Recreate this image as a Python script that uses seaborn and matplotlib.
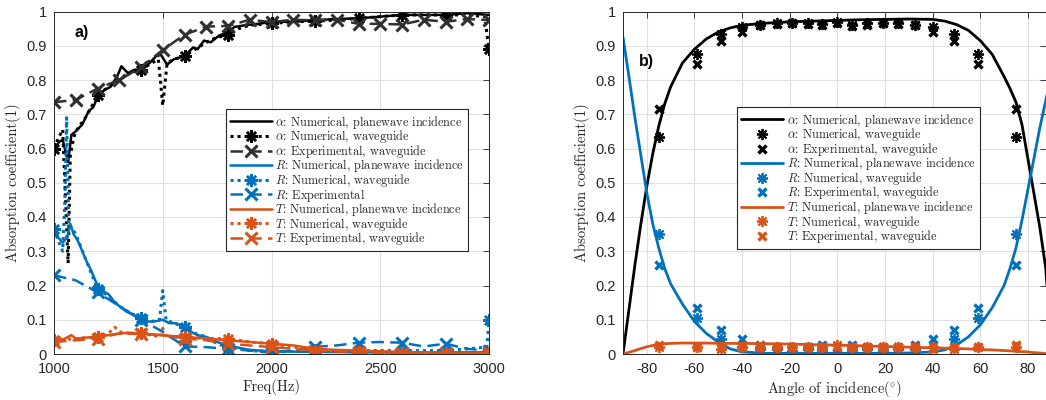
import numpy as np
import pandas as pd
import matplotlib
matplotlib.use('Agg')
import matplotlib.pyplot as plt
import seaborn as sns

# Panel a) data: absorption vs frequency
freq_a_pw = [1000, 1025, 1040, 1065, 1080, 1100, 1130, 1160, 1180, 1200, 1230, 1260, 1290, 1310,
             1340, 1370, 1400, 1440, 1470, 1490, 1520, 1550, 1600, 1640, 1660, 1690, 1720, 1760,
             1800, 1830, 1880, 1950, 2000, 2100, 2200, 2300, 2400, 2500, 2600, 2700, 2800, 2900, 3000]
alpha_pw = [0.60, 0.62, 0.625, 0.56, 0.64, 0.65, 0.67, 0.71, 0.72, 0.75, 0.77, 0.78, 0.81, 0.84,
            0.82, 0.83, 0.83, 0.85, 0.87, 0.875, 0.845, 0.86, 0.87, 0.895, 0.89, 0.915, 0.91, 0.93,
            0.94, 0.955, 0.96, 0.965, 0.97, 0.97, 0.975, 0.978, 0.98, 0.985, 0.99, 0.99, 0.99, 0.995, 0.99]

freq_a_wg = [1000, 1020, 1040, 1050, 1065, 1075, 1090, 1100, 1150, 1200, 1250, 1300, 1350, 1400,
             1450, 1480, 1500, 1520, 1550, 1600, 1650, 1700, 1750, 1800, 1850, 1900, 2000, 2100,
             2200, 2300, 2400, 2500, 2600, 2700, 2800, 2900, 2980, 3000]
alpha_wg = [0.60, 0.63, 0.655, 0.50, 0.265, 0.58, 0.63, 0.65, 0.695, 0.755, 0.78, 0.80, 0.82, 0.83,
            0.85, 0.86, 0.725, 0.85, 0.86, 0.87, 0.89, 0.91, 0.925, 0.93, 0.95, 0.96, 0.965, 0.97,
            0.972, 0.975, 0.98, 0.985, 0.99, 0.99, 0.99, 0.99, 0.985, 0.89]

freq_exp = [1000, 1100, 1200, 1300, 1400, 1500, 1600, 1700, 1800, 1900, 2000,
            2100, 2200, 2300, 2400, 2500, 2600, 2700, 2800, 2900, 3000]
alpha_exp = [0.735, 0.742, 0.775, 0.80, 0.837, 0.888, 0.932, 0.956, 0.958, 0.976, 0.969,
             0.976, 0.974, 0.976, 0.964, 0.964, 0.962, 0.976, 0.97, 0.978, 0.975]

freq_r_pw = [1000, 1020, 1040, 1060, 1075, 1090, 1110, 1130, 1150, 1170, 1200, 1220, 1250, 1280,
             1300, 1330, 1360, 1400, 1430, 1460, 1500, 1530, 1560, 1600, 1630, 1660, 1700, 1750,
             1800, 1850, 1900, 2000, 2200, 2400, 2600, 2800, 3000]
r_pw = [0.37, 0.34, 0.325, 0.34, 0.38, 0.35, 0.33, 0.30, 0.27, 0.245, 0.20, 0.185, 0.175, 0.15,
        0.14, 0.125, 0.115, 0.10, 0.095, 0.095, 0.10, 0.09, 0.09, 0.08, 0.065, 0.055, 0.05, 0.035,
        0.025, 0.018, 0.012, 0.008, 0.006, 0.005, 0.005, 0.005, 0.005]

freq_r_wg = [1000, 1020, 1040, 1050, 1058, 1068, 1080, 1100, 1150, 1200, 1250, 1300, 1350, 1400,
             1450, 1485, 1500, 1515, 1550, 1600, 1650, 1700, 1750, 1800, 1900, 2000, 2100, 2200,
             2300, 2400, 2500, 2600, 2700, 2800, 2900, 2990, 3000]
r_wg = [0.365, 0.33, 0.30, 0.45, 0.69, 0.37, 0.37, 0.35, 0.27, 0.19, 0.17, 0.14, 0.12, 0.105,
        0.095, 0.10, 0.185, 0.10, 0.09, 0.08, 0.06, 0.05, 0.03, 0.02, 0.01, 0.005, 0.008, 0.012,
        0.01, 0.01, 0.01, 0.01, 0.01, 0.01, 0.015, 0.02, 0.10]

r_exp = [0.23, 0.215, 0.18, 0.14, 0.10, 0.065, 0.022, 0.02, 0.015, 0.01, 0.004,
         0.01, 0.021, 0.025, 0.033, 0.035, 0.033, 0.022, 0.03, 0.015, 0.01]

freq_t_pw = [1000, 1050, 1080, 1100, 1150, 1200, 1250, 1300, 1350, 1400, 1450, 1500, 1550,
             1600, 1700, 1800, 1900, 2000, 2100, 2200, 2300, 2400, 2600, 2800, 3000]
t_pw = [0.035, 0.045, 0.055, 0.045, 0.048, 0.05, 0.055, 0.06, 0.062, 0.06, 0.057, 0.055, 0.052,
        0.05, 0.045, 0.04, 0.035, 0.03, 0.025, 0.015, 0.012, 0.01, 0.006, 0.004, 0.003]

freq_t_wg = [1000, 1100, 1200, 1250, 1280, 1300, 1350, 1400, 1450, 1490, 1500, 1510, 1550,
             1600, 1700, 1800, 1900, 2000, 2100, 2200, 2300, 2400, 2600, 2800, 3000]
t_wg = [0.04, 0.045, 0.05, 0.06, 0.078, 0.065, 0.06, 0.06, 0.055, 0.05, 0.075, 0.05, 0.05,
        0.05, 0.045, 0.045, 0.035, 0.03, 0.02, 0.01, 0.008, 0.005, 0.003, 0.003, 0.003]

t_exp = [0.035, 0.04, 0.045, 0.06, 0.058, 0.055, 0.045, 0.04, 0.03, 0.025, 0.02,
         0.015, 0.01, 0.008, 0.005, 0.004, 0.003, 0.003, 0.002, 0.002, 0.002]

# Panel b) data: absorption vs angle of incidence
angle_line = [-90, -87.5, -85, -82.5, -80, -77.5, -75, -72.5, -70, -65, -60, -55, -50, -45, -40,
              -30, -20, -10, 0, 10, 20, 30, 40, 45, 50, 55, 60, 65, 70, 72.5, 75, 77.5, 80, 82.5,
              85, 87.5, 90]
alpha_ang_pw = [0.0, 0.13, 0.26, 0.38, 0.49, 0.585, 0.665, 0.73, 0.78, 0.85, 0.89, 0.92, 0.94,
                0.952, 0.96, 0.966, 0.97, 0.972, 0.974, 0.976, 0.977, 0.978, 0.977, 0.972, 0.962,
                0.945, 0.915, 0.875, 0.81, 0.775, 0.735, 0.67, 0.57, 0.47, 0.37, 0.25, 0.0]
r_ang_pw = [0.925, 0.81, 0.69, 0.58, 0.47, 0.38, 0.31, 0.25, 0.205, 0.145, 0.095, 0.06, 0.035,
            0.015, 0.006, 0.002, 0.002, 0.002, 0.002, 0.002, 0.002, 0.003, 0.006, 0.012, 0.026,
            0.05, 0.085, 0.135, 0.2, 0.25, 0.31, 0.39, 0.48, 0.57, 0.66, 0.74, 0.82]
t_ang_pw = [0.0, 0.005, 0.01, 0.016, 0.021, 0.025, 0.028, 0.03, 0.031, 0.032, 0.032, 0.032, 0.031,
            0.031, 0.031, 0.03, 0.029, 0.027, 0.026, 0.024, 0.022, 0.02, 0.018, 0.017, 0.016,
            0.015, 0.013, 0.012, 0.01, 0.009, 0.008, 0.007, 0.006, 0.004, 0.003, 0.001, 0.0]

angle_meas = [-75, -59, -49, -40, -32.5, -25.5, -19, -12.5, -6.3, 0, 6.3, 12.5, 19, 25.5, 32.5,
              40, 49, 59, 75]
alpha_ang_wg = [0.635, 0.875, 0.935, 0.955, 0.962, 0.965, 0.967, 0.965, 0.963, 0.97, 0.962, 0.965,
                0.967, 0.965, 0.962, 0.955, 0.935, 0.875, 0.635]
alpha_ang_exp = [0.715, 0.848, 0.915, 0.94, 0.96, 0.963, 0.966, 0.963, 0.96, 0.965, 0.958, 0.962,
                 0.965, 0.963, 0.96, 0.94, 0.915, 0.848, 0.715]
r_ang_wg = [0.35, 0.105, 0.045, 0.02, 0.015, 0.015, 0.01, 0.015, 0.012, 0.0, 0.012, 0.015, 0.012,
            0.015, 0.015, 0.02, 0.045, 0.105, 0.35]
r_ang_exp = [0.26, 0.135, 0.07, 0.045, 0.025, 0.02, 0.02, 0.02, 0.025, 0.02, 0.025, 0.02, 0.02,
             0.02, 0.025, 0.045, 0.07, 0.135, 0.26]
t_ang_wg = [0.02, 0.02, 0.015, 0.02, 0.02, 0.02, 0.02, 0.02, 0.02, 0.025, 0.02, 0.02, 0.02, 0.02,
            0.02, 0.02, 0.015, 0.02, 0.02]
t_ang_exp = [0.025, 0.02, 0.02, 0.02, 0.02, 0.02, 0.02, 0.02, 0.02, 0.02, 0.02, 0.02, 0.02, 0.02,
             0.02, 0.015, 0.02, 0.02, 0.025]

# Style
sns.set_style('white')
plt.rcParams['font.family'] = ['Liberation Sans', 'DejaVu Sans']
plt.rcParams['mathtext.fontset'] = 'cm'
plt.rcParams['axes.unicode_minus'] = False

BLUE = '#0072BD'
ORANGE = '#D95319'
BLACK = '#000000'
DGRAY = '#303030'
EDGE = '#262626'
SERIF = 'cmr10'

ASTER = (8, 2, 0)
DOT = (0, (1, 1.3))
DASH = (0, (5, 2.5))


def line(ax, x, y, color, ls='-', lw=1.8, label=None, marker=None, every=None, ms=8, mew=1.8):
    kw = dict(x=x, y=y, ax=ax, color=color, linestyle=ls, linewidth=lw, label=label,
              errorbar=None, legend=False)
    if marker is not None:
        kw.update(marker=marker, markersize=ms, markeredgewidth=mew,
                  markeredgecolor=color, markerfacecolor=color)
        if every is not None:
            kw['markevery'] = every
    sns.lineplot(**kw)


def every200(x):
    return [v % 200 == 0 for v in x]


fig = plt.figure(figsize=(10.46, 4.0), dpi=100)
ax1 = fig.add_axes([54 / 1046, 1 - 354 / 400, 435 / 1046, 342.5 / 400])
ax2 = fig.add_axes([623 / 1046, 1 - 354 / 400, 423 / 1046, 342.5 / 400])

# ---- panel a)
line(ax1, freq_a_pw, alpha_pw, BLACK, '-', label=r'$\alpha$: Numerical, planewave incidence')
line(ax1, freq_a_wg, alpha_wg, BLACK, DOT, lw=2.2, label=r'$\alpha$: Numerical, waveguide',
     marker=ASTER, every=every200(freq_a_wg), ms=9)
line(ax1, freq_exp, alpha_exp, DGRAY, DASH, label=r'$\alpha$: Experimental, waveguide',
     marker='x', ms=8, mew=2.2)
line(ax1, freq_r_pw, r_pw, BLUE, '-', label=r'$R$: Numerical, planewave incidence')
line(ax1, freq_r_wg, r_wg, BLUE, DOT, lw=2.2, label=r'$R$: Numerical, waveguide',
     marker=ASTER, every=every200(freq_r_wg), ms=9)
line(ax1, freq_exp, r_exp, BLUE, DASH, label=r'$R$: Experimental',
     marker='x', every=every200(freq_exp), ms=8, mew=2.2)
line(ax1, freq_t_pw, t_pw, ORANGE, '-', label=r'$T$: Numerical, planewave incidence')
line(ax1, freq_t_wg, t_wg, ORANGE, DOT, lw=2.2, label=r'$T$: Numerical, waveguide',
     marker=ASTER, every=every200(freq_t_wg), ms=9)
line(ax1, freq_exp, t_exp, ORANGE, DASH, label=r'$T$: Experimental, waveguide',
     marker='x', every=every200(freq_exp), ms=8, mew=2.2)

ax1.set_xlim(1000, 3000)
ax1.set_xticks([1000, 1500, 2000, 2500, 3000])
ax1.set_xlabel('Freq(Hz)', family=SERIF, fontsize=10.5, color=EDGE, labelpad=2)
ax1.text(1096, 0.94, 'a)', fontsize=11.5, fontweight='bold', va='center', color=BLACK)

# ---- panel b)
line(ax2, angle_line, alpha_ang_pw, BLACK, '-', lw=2.0, label=r'$\alpha$: Numerical, planewave incidence')
line(ax2, angle_meas, alpha_ang_wg, BLACK, 'none', label=r'$\alpha$: Numerical, waveguide',
     marker=ASTER, ms=8, mew=1.3)
line(ax2, angle_meas, alpha_ang_exp, BLACK, 'none', label=r'$\alpha$: Experimental, waveguide',
     marker='x', ms=6, mew=2.4)
line(ax2, angle_line, r_ang_pw, BLUE, '-', lw=2.0, label=r'$R$: Numerical, planewave incidence')
line(ax2, angle_meas, r_ang_wg, BLUE, 'none', label=r'$R$: Numerical, waveguide',
     marker=ASTER, ms=8, mew=1.3)
line(ax2, angle_meas, r_ang_exp, BLUE, 'none', label=r'$R$: Experimental, waveguide',
     marker='x', ms=6, mew=2.4)
line(ax2, angle_line, t_ang_pw, ORANGE, '-', lw=2.0, label=r'$T$: Numerical, planewave incidence')
line(ax2, angle_meas, t_ang_wg, ORANGE, 'none', label=r'$T$: Numerical, waveguide',
     marker=ASTER, ms=8, mew=1.3)
line(ax2, angle_meas, t_ang_exp, ORANGE, 'none', label=r'$T$: Experimental, waveguide',
     marker='x', ms=6, mew=2.4)

ax2.set_xlim(-90, 87.6)
ax2.set_xticks(np.arange(-80, 81, 20))
ax2.set_xlabel(r'Angle of incidence$(^{\circ})$', family=SERIF, fontsize=10.5, color=EDGE, labelpad=2)
ax2.text(-83.3, 0.853, 'b)', fontsize=11.5, fontweight='bold', va='center', color=BLACK)
ax2.spines['right'].set_visible(False)

# ---- common axis styling
for ax in (ax1, ax2):
    ax.set_ylim(0, 1)
    ax.set_yticks(np.round(np.arange(0, 1.01, 0.1), 1))
    ax.set_yticklabels(['0'] + ['%.1f' % v for v in np.arange(0.1, 0.95, 0.1)] + ['1'])
    ax.set_ylabel('Absorption coefficient(1)', family=SERIF, fontsize=10.5, color=EDGE, labelpad=4)
    ax.grid(True, color='#e0e0e0', linewidth=0.8)
    ax.set_axisbelow(True)
    ax.tick_params(direction='in', length=4, width=0.6, top=True, right=True,
                   colors=EDGE, labelsize=10.5)
    ax.tick_params(axis='x', pad=6)
    ax.tick_params(axis='y', pad=5)
    for s in ax.spines.values():
        s.set_color(EDGE)
        s.set_linewidth(0.7)

leg_kw = dict(prop={'family': SERIF, 'size': 8.8}, frameon=True, fancybox=False, framealpha=1,
              edgecolor=EDGE, borderaxespad=0, handlelength=3.4, handletextpad=0.3,
              labelspacing=-0.2, borderpad=0.35, numpoints=1)
leg1 = ax1.legend(loc='upper right', bbox_to_anchor=(0.952, 0.714), **leg_kw)
leg2 = ax2.legend(loc='upper left', bbox_to_anchor=(0.27, 0.72), **leg_kw)
for leg in (leg1, leg2):
    leg.get_frame().set_linewidth(0.8)

fig.savefig('out.png', dpi=100)
